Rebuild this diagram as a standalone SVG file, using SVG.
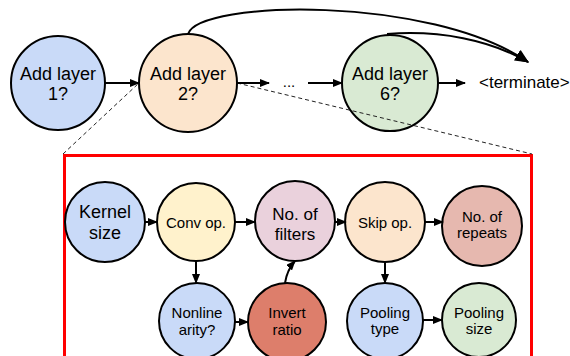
<svg xmlns="http://www.w3.org/2000/svg" width="570" height="356" viewBox="0 0 570 356">
<defs>
<marker id="ah" viewBox="0 0 10 8" refX="9" refY="4" markerWidth="10" markerHeight="8" markerUnits="userSpaceOnUse" orient="auto">
<path d="M0,0 L10,4 L0,8 z" fill="#000"/>
</marker>
<marker id="ahb" viewBox="0 0 12 10" refX="11" refY="5" markerWidth="14" markerHeight="12" markerUnits="userSpaceOnUse" orient="auto">
<path d="M0,0 L12,5 L0,10 z" fill="#000"/>
</marker>
<style>
.n{stroke:#000;stroke-width:2}
text{font-family:"Liberation Sans",Arial,sans-serif;fill:#000;text-anchor:middle}
.t18{font-size:18px}
.t17{font-size:17px}
.t15{font-size:15px}
.c{fill:none;stroke:#000;stroke-width:2}
.d{fill:none;stroke:#222;stroke-width:1;stroke-dasharray:4 3}
</style>
</defs>
<rect width="570" height="356" fill="#fff"/>

<g id="detail-box">
<rect x="64.5" y="155.5" width="467" height="210" fill="none" stroke="#ff0000" stroke-width="3"/>
</g>

<g id="layer1"><circle class="n" cx="58" cy="83" r="47" fill="#c9daf8"/><text class="t18" x="58" y="80">Add layer</text><text class="t18" x="58" y="100">1?</text></g>
<g id="layer2"><circle class="n" cx="188" cy="83" r="49" fill="#fce5cd"/><text class="t18" x="188" y="80">Add layer</text><text class="t18" x="188" y="100">2?</text></g>
<g id="layer6"><circle class="n" cx="390" cy="83" r="48" fill="#d9ead3"/><text class="t18" x="390" y="80">Add layer</text><text class="t18" x="390" y="100">6?</text></g>
<g id="terminate"><text class="t17" x="479" y="88" style="text-anchor:start">&lt;terminate&gt;</text></g>
<g id="ellipsis"><text class="t15" x="289" y="87">...</text></g>

<g id="zoom-lines">
<path class="d" d="M63,154 L139,83"/>
<path class="d" d="M237,83 L532,154"/>
</g>

<g id="kernel"><circle class="n" cx="105" cy="222" r="40" fill="#c9daf8"/><text class="t18" x="105" y="218">Kernel</text><text class="t18" x="105" y="239">size</text></g>
<g id="conv"><circle class="n" cx="196" cy="222" r="39" fill="#fff2cc"/><text class="t15" x="196" y="228">Conv op.</text></g>
<g id="filters"><circle class="n" cx="295" cy="221" r="40" fill="#ead1dc"/><text class="t17" x="295" y="220">No. of</text><text class="t17" x="295" y="240">filters</text></g>
<g id="skip"><circle class="n" cx="385" cy="222" r="40" fill="#fce5cd"/><text class="t15" x="385" y="228">Skip op.</text></g>
<g id="repeats"><circle class="n" cx="482" cy="226" r="40" fill="#e6b8af"/><text class="t15" x="482" y="222">No. of</text><text class="t15" x="482" y="238">repeats</text></g>
<g id="nonlinearity"><circle class="n" cx="197" cy="321" r="38" fill="#c9daf8"/><text class="t15" x="197" y="318">Nonline</text><text class="t15" x="197" y="335">arity?</text></g>
<g id="invert"><circle class="n" cx="287" cy="322" r="39" fill="#dd7e6b"/><text class="t15" x="287" y="318">Invert</text><text class="t15" x="287" y="335">ratio</text></g>
<g id="pooltype"><circle class="n" cx="385" cy="321" r="38" fill="#c9daf8"/><text class="t15" x="385" y="318">Pooling</text><text class="t15" x="385" y="334">type</text></g>
<g id="poolsize"><circle class="n" cx="479" cy="320" r="37" fill="#d9ead3"/><text class="t15" x="479" y="318">Pooling</text><text class="t15" x="479" y="334">size</text></g>

<g id="connectors">
<path class="c" d="M105,83 L139,83" marker-end="url(#ah)"/>
<path class="c" d="M237,83 L269,83" marker-end="url(#ah)"/>
<path class="c" d="M308,83 L342,83" marker-end="url(#ah)"/>
<path class="c" d="M438,83 L465,83" marker-end="url(#ah)"/>
<path class="c" d="M188,34 C200,0 430,-5 528,62" marker-end="url(#ahb)"/>
<path class="c" d="M387,34 C440,30 490,40 528,62" marker-end="url(#ahb)"/>
<path class="c" d="M145,222 L157,222" marker-end="url(#ah)"/>
<path class="c" d="M235,222 L255,222" marker-end="url(#ah)"/>
<path class="c" d="M196,261 L196,283" marker-end="url(#ah)"/>
<path class="c" d="M235,322 L248,322" marker-end="url(#ah)"/>
<path class="c" d="M285,283 Q287,270 295,261" marker-end="url(#ah)"/>
<path class="c" d="M335,222 L346,222" marker-end="url(#ah)"/>
<path class="c" d="M425,222 L443,222" marker-end="url(#ah)"/>
<path class="c" d="M385,262 L385,283" marker-end="url(#ah)"/>
<path class="c" d="M423,320 L442,320" marker-end="url(#ah)"/>
</g>
</svg>
